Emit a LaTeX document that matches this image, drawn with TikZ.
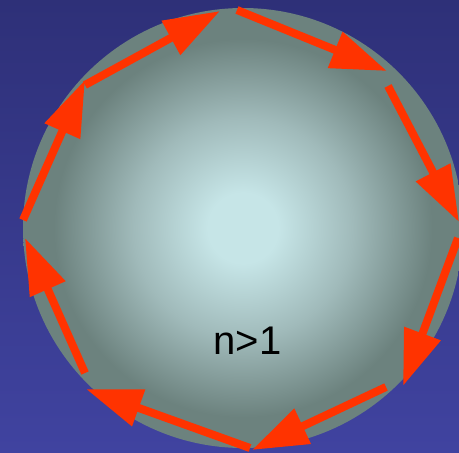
\documentclass[tikz,border=0pt]{standalone}
\usepackage{fontspec}
\setmainfont{Liberation Sans}
\usetikzlibrary{arrows.meta}
\definecolor{bgtop}{RGB}{46,48,120}
\definecolor{bgbot}{RGB}{64,67,160}
\definecolor{ballin}{RGB}{198,229,231}
\definecolor{ballmid}{RGB}{160,186,186}
\definecolor{ballout}{RGB}{108,130,126}
\definecolor{flowred}{RGB}{255,51,0}
\pgfdeclareradialshading{ball}{\pgfpoint{0bp}{0bp}}{color(0bp)=(ballin); color(4bp)=(ballin); color(12.5bp)=(ballmid); color(21.5bp)=(ballout); color(25bp)=(ballout); color(50bp)=(ballout)}
\tikzset{flow/.style={draw=flowred, line width=8pt, -{Triangle[length=56pt,width=37pt]}}}
\begin{document}
\begin{tikzpicture}[x=1pt,y=-1pt]
\useasboundingbox (0,0) rectangle (459,453);
\clip (0,0) rectangle (459,453);
\shade[top color=bgtop, bottom color=bgbot] (0,0) rectangle (459,453);
\shade[shading=ball] (243,228) circle (220);
\node[anchor=base, inner sep=0pt, font=\fontsize{40}{48}\selectfont] (label) at (247.5,354) {n>1};
% tails and tips round the rim
\coordinate (a1) at (237,10);  \coordinate (b1) at (387,71);
\coordinate (a2) at (388,86);  \coordinate (b2) at (459,222);
\coordinate (a3) at (458,238); \coordinate (b3) at (403,386);
\coordinate (a4) at (386,387); \coordinate (b4) at (252,450);
\coordinate (a5) at (250,448); \coordinate (b5) at (86,389);
\coordinate (a6) at (85,373);  \coordinate (b6) at (25,238);
\coordinate (a7) at (23,220);  \coordinate (b7) at (85,80);
\coordinate (a8) at (85,85);   \coordinate (b8) at (220,11);
\foreach \i in {1,...,8}
  \draw[flow] (a\i) -- (b\i);
\end{tikzpicture}
\end{document}
